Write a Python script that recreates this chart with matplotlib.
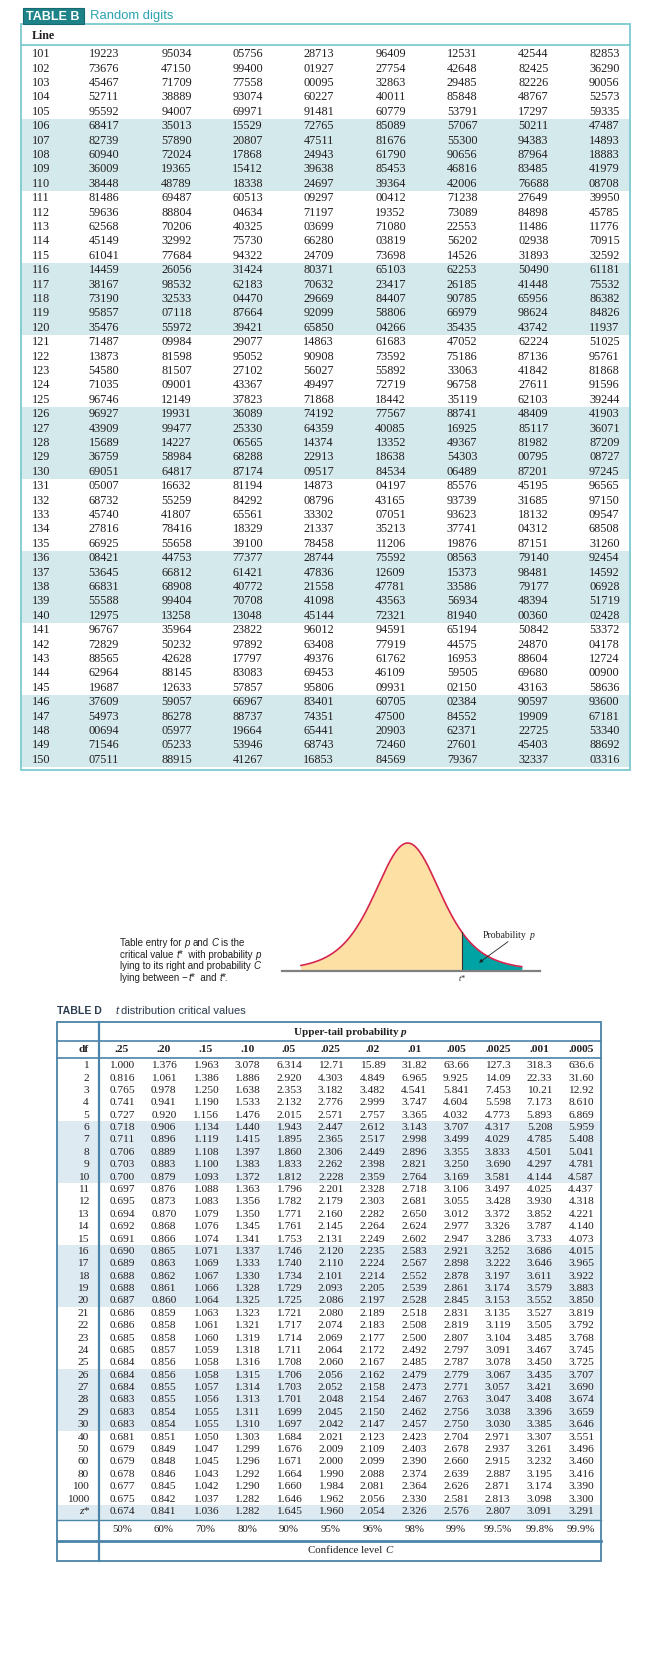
import math
import numpy as np
import matplotlib.pyplot as plt
from matplotlib.patches import Rectangle

# ---------- data ----------
line_numbers = list(range(101, 151))
digit_rows = [
    "19223 95034 05756 28713 96409 12531 42544 82853",
    "73676 47150 99400 01927 27754 42648 82425 36290",
    "45467 71709 77558 00095 32863 29485 82226 90056",
    "52711 38889 93074 60227 40011 85848 48767 52573",
    "95592 94007 69971 91481 60779 53791 17297 59335",
    "68417 35013 15529 72765 85089 57067 50211 47487",
    "82739 57890 20807 47511 81676 55300 94383 14893",
    "60940 72024 17868 24943 61790 90656 87964 18883",
    "36009 19365 15412 39638 85453 46816 83485 41979",
    "38448 48789 18338 24697 39364 42006 76688 08708",
    "81486 69487 60513 09297 00412 71238 27649 39950",
    "59636 88804 04634 71197 19352 73089 84898 45785",
    "62568 70206 40325 03699 71080 22553 11486 11776",
    "45149 32992 75730 66280 03819 56202 02938 70915",
    "61041 77684 94322 24709 73698 14526 31893 32592",
    "14459 26056 31424 80371 65103 62253 50490 61181",
    "38167 98532 62183 70632 23417 26185 41448 75532",
    "73190 32533 04470 29669 84407 90785 65956 86382",
    "95857 07118 87664 92099 58806 66979 98624 84826",
    "35476 55972 39421 65850 04266 35435 43742 11937",
    "71487 09984 29077 14863 61683 47052 62224 51025",
    "13873 81598 95052 90908 73592 75186 87136 95761",
    "54580 81507 27102 56027 55892 33063 41842 81868",
    "71035 09001 43367 49497 72719 96758 27611 91596",
    "96746 12149 37823 71868 18442 35119 62103 39244",
    "96927 19931 36089 74192 77567 88741 48409 41903",
    "43909 99477 25330 64359 40085 16925 85117 36071",
    "15689 14227 06565 14374 13352 49367 81982 87209",
    "36759 58984 68288 22913 18638 54303 00795 08727",
    "69051 64817 87174 09517 84534 06489 87201 97245",
    "05007 16632 81194 14873 04197 85576 45195 96565",
    "68732 55259 84292 08796 43165 93739 31685 97150",
    "45740 41807 65561 33302 07051 93623 18132 09547",
    "27816 78416 18329 21337 35213 37741 04312 68508",
    "66925 55658 39100 78458 11206 19876 87151 31260",
    "08421 44753 77377 28744 75592 08563 79140 92454",
    "53645 66812 61421 47836 12609 15373 98481 14592",
    "66831 68908 40772 21558 47781 33586 79177 06928",
    "55588 99404 70708 41098 43563 56934 48394 51719",
    "12975 13258 13048 45144 72321 81940 00360 02428",
    "96767 35964 23822 96012 94591 65194 50842 53372",
    "72829 50232 97892 63408 77919 44575 24870 04178",
    "88565 42628 17797 49376 61762 16953 88604 12724",
    "62964 88145 83083 69453 46109 59505 69680 00900",
    "19687 12633 57857 95806 09931 02150 43163 58636",
    "37609 59057 66967 83401 60705 02384 90597 93600",
    "54973 86278 88737 74351 47500 84552 19909 67181",
    "00694 05977 19664 65441 20903 62371 22725 53340",
    "71546 05233 53946 68743 72460 27601 45403 88692",
    "07511 88915 41267 16853 84569 79367 32337 03316",
]

upper_tail = [".25", ".20", ".15", ".10", ".05", ".025", ".02", ".01",
              ".005", ".0025", ".001", ".0005"]
conf_levels = ["50%", "60%", "70%", "80%", "90%", "95%", "96%", "98%",
               "99%", "99.5%", "99.8%", "99.9%"]
df_labels = [str(d) for d in range(1, 31)] + ["40", "50", "60", "80", "100", "1000", "z*"]
t_rows = [
    "1.000 1.376 1.963 3.078 6.314 12.71 15.89 31.82 63.66 127.3 318.3 636.6",
    "0.816 1.061 1.386 1.886 2.920 4.303 4.849 6.965 9.925 14.09 22.33 31.60",
    "0.765 0.978 1.250 1.638 2.353 3.182 3.482 4.541 5.841 7.453 10.21 12.92",
    "0.741 0.941 1.190 1.533 2.132 2.776 2.999 3.747 4.604 5.598 7.173 8.610",
    "0.727 0.920 1.156 1.476 2.015 2.571 2.757 3.365 4.032 4.773 5.893 6.869",
    "0.718 0.906 1.134 1.440 1.943 2.447 2.612 3.143 3.707 4.317 5.208 5.959",
    "0.711 0.896 1.119 1.415 1.895 2.365 2.517 2.998 3.499 4.029 4.785 5.408",
    "0.706 0.889 1.108 1.397 1.860 2.306 2.449 2.896 3.355 3.833 4.501 5.041",
    "0.703 0.883 1.100 1.383 1.833 2.262 2.398 2.821 3.250 3.690 4.297 4.781",
    "0.700 0.879 1.093 1.372 1.812 2.228 2.359 2.764 3.169 3.581 4.144 4.587",
    "0.697 0.876 1.088 1.363 1.796 2.201 2.328 2.718 3.106 3.497 4.025 4.437",
    "0.695 0.873 1.083 1.356 1.782 2.179 2.303 2.681 3.055 3.428 3.930 4.318",
    "0.694 0.870 1.079 1.350 1.771 2.160 2.282 2.650 3.012 3.372 3.852 4.221",
    "0.692 0.868 1.076 1.345 1.761 2.145 2.264 2.624 2.977 3.326 3.787 4.140",
    "0.691 0.866 1.074 1.341 1.753 2.131 2.249 2.602 2.947 3.286 3.733 4.073",
    "0.690 0.865 1.071 1.337 1.746 2.120 2.235 2.583 2.921 3.252 3.686 4.015",
    "0.689 0.863 1.069 1.333 1.740 2.110 2.224 2.567 2.898 3.222 3.646 3.965",
    "0.688 0.862 1.067 1.330 1.734 2.101 2.214 2.552 2.878 3.197 3.611 3.922",
    "0.688 0.861 1.066 1.328 1.729 2.093 2.205 2.539 2.861 3.174 3.579 3.883",
    "0.687 0.860 1.064 1.325 1.725 2.086 2.197 2.528 2.845 3.153 3.552 3.850",
    "0.686 0.859 1.063 1.323 1.721 2.080 2.189 2.518 2.831 3.135 3.527 3.819",
    "0.686 0.858 1.061 1.321 1.717 2.074 2.183 2.508 2.819 3.119 3.505 3.792",
    "0.685 0.858 1.060 1.319 1.714 2.069 2.177 2.500 2.807 3.104 3.485 3.768",
    "0.685 0.857 1.059 1.318 1.711 2.064 2.172 2.492 2.797 3.091 3.467 3.745",
    "0.684 0.856 1.058 1.316 1.708 2.060 2.167 2.485 2.787 3.078 3.450 3.725",
    "0.684 0.856 1.058 1.315 1.706 2.056 2.162 2.479 2.779 3.067 3.435 3.707",
    "0.684 0.855 1.057 1.314 1.703 2.052 2.158 2.473 2.771 3.057 3.421 3.690",
    "0.683 0.855 1.056 1.313 1.701 2.048 2.154 2.467 2.763 3.047 3.408 3.674",
    "0.683 0.854 1.055 1.311 1.699 2.045 2.150 2.462 2.756 3.038 3.396 3.659",
    "0.683 0.854 1.055 1.310 1.697 2.042 2.147 2.457 2.750 3.030 3.385 3.646",
    "0.681 0.851 1.050 1.303 1.684 2.021 2.123 2.423 2.704 2.971 3.307 3.551",
    "0.679 0.849 1.047 1.299 1.676 2.009 2.109 2.403 2.678 2.937 3.261 3.496",
    "0.679 0.848 1.045 1.296 1.671 2.000 2.099 2.390 2.660 2.915 3.232 3.460",
    "0.678 0.846 1.043 1.292 1.664 1.990 2.088 2.374 2.639 2.887 3.195 3.416",
    "0.677 0.845 1.042 1.290 1.660 1.984 2.081 2.364 2.626 2.871 3.174 3.390",
    "0.675 0.842 1.037 1.282 1.646 1.962 2.056 2.330 2.581 2.813 3.098 3.300",
    "0.674 0.841 1.036 1.282 1.645 1.960 2.054 2.326 2.576 2.807 3.091 3.291",
]

# illustration of the t curve
curve_df = 5
t_star = 1.56

SERIF = ["Liberation Serif", "DejaVu Serif"]
NARROW = ["Liberation Sans Narrow", "Liberation Sans", "DejaVu Sans"]
INK = "#231f20"

fig = plt.figure(figsize=(6.68, 16.64), dpi=100)
fig.patch.set_facecolor("white")
ax = fig.add_axes([0, 0, 1, 1])
ax.set_xlim(0, 668)
ax.set_ylim(1664, 0)
ax.axis("off")
ax.set_zorder(3)
ax.patch.set_alpha(0)
renderer = fig.canvas.get_renderer()


def rich(x, y, parts, size, family, ha="left", color=INK, weight="normal"):
    # pieces of text side by side, italic where asked
    sp = ax.text(0, 0, "x x", fontsize=size, family=family, weight=weight)
    sp2 = ax.text(0, 0, "xx", fontsize=size, family=family, weight=weight)
    space = sp.get_window_extent(renderer).width - sp2.get_window_extent(renderer).width
    sp.remove()
    sp2.remove()
    objs = []
    for s, it in parts:
        t = ax.text(0, y, s.strip(), fontsize=size, family=family, color=color,
                    style="italic" if it else "normal", weight=weight,
                    ha="left", va="center")
        lead = len(s) - len(s.lstrip())
        trail = len(s) - len(s.rstrip())
        w = t.get_window_extent(renderer).width if s.strip() else 0
        objs.append((t, lead * space, w, trail * space))
    total = sum(a + b + c for _, a, b, c in objs)
    pos = x - total / 2 if ha == "center" else x
    for t, a, w, c in objs:
        pos += a
        t.set_x(pos)
        pos += w + c


# ---------- TABLE B ----------
b_left, b_right, b_top, b_bottom = 21, 630, 24, 770
b_y0, b_pitch = 54.3, 14.4
b_cols = [103.8, 176.6, 247.7, 318.7, 390.6, 462.1, 533.2, 604.3]

for g in range(5):
    i0 = g * 10 + 5
    ax.add_patch(Rectangle((b_left, b_y0 + i0 * b_pitch - b_pitch / 2), b_right - b_left,
                           5 * b_pitch, facecolor="#d4e9ec", edgecolor="none", zorder=1))
ax.add_patch(Rectangle((b_left, b_top), b_right - b_left, b_bottom - b_top,
                       facecolor="none", edgecolor="#7ccad0", lw=1.3, zorder=3))
ax.plot([b_left, b_right], [44.5, 44.5], color="#7ccad0", lw=1.3, zorder=3)
ax.add_patch(Rectangle((22.5, 8.3), 61.5, b_top - 8.3, facecolor="#1e8289",
                       edgecolor="#156a70", lw=0.8, zorder=4))
ax.text(53.2, 16.5, "TABLE B", color="white", fontsize=9, weight="bold",
        family=NARROW, ha="center", va="center", zorder=5)
ax.text(90.5, 16.2, "Random digits", color="#2aa3b0", fontsize=9.4, family=NARROW,
        ha="left", va="center")
ax.text(32, 35.7, "Line", fontsize=8.6, family=SERIF, weight="bold", color=INK,
        ha="left", va="center")

for i, (num, row) in enumerate(zip(line_numbers, digit_rows)):
    y = b_y0 + i * b_pitch
    ax.text(32, y, str(num), fontsize=8.8, family=SERIF, color=INK, ha="left", va="center")
    for x, grp in zip(b_cols, row.split()):
        ax.text(x, y, grp, fontsize=8.8, family=SERIF, color=INK, ha="center", va="center")

# ---------- t curve ----------
px_unit, cx = 34.6, 407.7
base_y, peak_h = 970.7, 127.7
ax_l, ax_r = 282, 540


def t_pdf(x, v):
    c = math.gamma((v + 1) / 2) / (math.sqrt(v * math.pi) * math.gamma(v / 2))
    return c * (1 + x ** 2 / v) ** (-(v + 1) / 2)


ax2 = fig.add_axes([ax_l / 668, 1 - base_y / 1664, (ax_r - ax_l) / 668, peak_h / 1664])
ax2.set_xlim((ax_l - cx) / px_unit, (ax_r - cx) / px_unit)
ax2.set_ylim(0, t_pdf(0, curve_df))
ax2.axis("off")
xs = np.linspace(-3.09, 3.3, 400)
ys = t_pdf(xs, curve_df)
ax2.fill_between(xs, 0, ys, where=xs <= t_star, color="#fde0a4", lw=0, interpolate=True)
ax2.fill_between(xs, 0, ys, where=xs >= t_star, color="#00a3a3", lw=0, interpolate=True)
ax2.plot(xs, ys, color="#d6254d", lw=1.2, clip_on=False, solid_capstyle="round")
ax2.plot([t_star, t_star], [0, t_pdf(t_star, curve_df)], color="#333333", lw=0.8)
ax2.plot(ax2.get_xlim(), [0, 0], color="#808080", lw=1.6, clip_on=False)

rich(cx + t_star * px_unit - 3, 979, [("t", True), ("*", False)], 6, SERIF)
rich(483, 935, [("Probability ", False), ("p", True)], 7, SERIF)
ax.annotate("", xy=(479, 962.7), xytext=(508, 941.7),
            arrowprops=dict(arrowstyle="-|>", color="#222222", lw=0.6,
                            mutation_scale=5, shrinkA=0, shrinkB=0))

desc = [
    [("Table entry for ", False), ("p", True), (" and ", False), ("C", True), (" is the", False)],
    [("critical value ", False), ("t", True), ("*  with probability ", False), ("p", True)],
    [("lying to its right and probability ", False), ("C", True)],
    [("lying between \u2212", False), ("t", True), ("*  and ", False), ("t", True), ("*.", False)],
]
for k, parts in enumerate(desc):
    rich(120.4, 943 + k * 11.7, parts, 7.0, NARROW)

# ---------- TABLE D ----------
d_left, d_right, d_top, d_bottom = 57.3, 601, 1021.7, 1561
d_sep = 99.3
d_cols = [122 + 41.75 * j for j in range(12)]
d_y0, d_pitch = 1065.7, 12.38
frame_c = "#4a84a8"

ax.text(d_left, 1011, "TABLE D", fontsize=7.6, weight="bold", family=NARROW,
        color="#2c3d4f", ha="left", va="center")
rich(115, 1011, [("t", True), (" distribution critical values", False)], 8, NARROW,
     color="#2c3d4f")

shade_d = [range(5, 10), range(15, 20), range(25, 30), range(36, 37)]
for grp in shade_d:
    i0, i1 = grp[0], grp[-1]
    top = d_y0 + i0 * d_pitch - d_pitch / 2
    bot = d_y0 + i1 * d_pitch + d_pitch / 2
    if i1 == 36:
        bot = 1520
    ax.add_patch(Rectangle((d_left, top), d_right - d_left, bot - top,
                           facecolor="#deeaf1", edgecolor="none", zorder=1))

ax.add_patch(Rectangle((d_left, d_top), d_right - d_left, d_bottom - d_top,
                       facecolor="none", edgecolor=frame_c, lw=1.3, zorder=3))
ax.plot([d_sep, d_sep], [d_top, d_bottom], color=frame_c, lw=1.6, zorder=3)
for yy, lw in [(1040.7, 1.2), (1058.3, 1.2), (1520, 1.0), (1541, 2.0)]:
    ax.plot([d_left, d_right], [yy, yy], color=frame_c, lw=lw, zorder=3)

rich((d_sep + d_right) / 2, 1032.3, [("Upper-tail probability ", False), ("p", True)],
     8, SERIF, ha="center", weight="bold")
ax.text(89, 1050, "df", fontsize=8.2, family=SERIF, weight="bold", color=INK,
        ha="right", va="center")
for x, lab in zip(d_cols, upper_tail):
    ax.text(x, 1050, lab, fontsize=8.2, family=SERIF, weight="bold", color=INK,
            ha="center", va="center")

for i, (lab, row) in enumerate(zip(df_labels, t_rows)):
    y = d_y0 + i * d_pitch
    ax.text(89, y, lab, fontsize=8.2, family=SERIF, color=INK, ha="right", va="center",
            style="italic" if lab == "z*" else "normal")
    for x, val in zip(d_cols, row.split()):
        ax.text(x, y, val, fontsize=8.2, family=SERIF, color=INK, ha="center", va="center")

for x, lab in zip(d_cols, conf_levels):
    ax.text(x, 1529.8, lab, fontsize=7.8, family=SERIF, color=INK, ha="center", va="center")
rich((d_sep + d_right) / 2, 1550.7, [("Confidence level ", False), ("C", True)], 7.8, SERIF,
     ha="center")

fig.savefig("out.png", dpi=100, facecolor="white")
